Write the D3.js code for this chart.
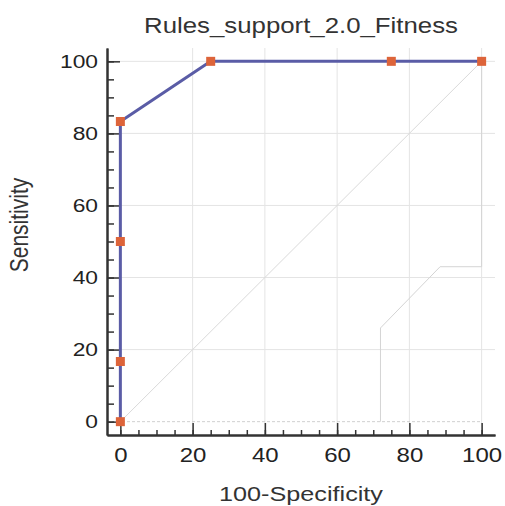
<!DOCTYPE html>
<html><head><meta charset="utf-8">
<script src="https://cdn.jsdelivr.net/npm/d3@7/dist/d3.min.js"></script>
<style>body{margin:0;background:#fff}</style>
</head><body><svg id="c" width="505" height="506"></svg>
<script>
const title = "Rules_support_2.0_Fitness";
const xLabel = "100-Specificity";
const yLabel = "Sensitivity";
const majorTicks = [0, 20, 40, 60, 80, 100];
const minorTicks = d3.range(0, 101, 5);
const rocX = [0, 0, 0, 0, 25, 75, 100];
const rocY = [0, 16.7, 50, 83.3, 100, 100, 100];
const bandX = [72, 72, 88.5, 100, 100];
const bandY = [0, 26, 43, 43, 100];
const diagX = [0, 100];
const diagY = [0, 100];

const svg = d3.select("#c");
const font = "Liberation Sans, Arial, sans-serif";
const sx = 1.2;
const x = d3.scaleLinear().domain([-3.7, 103.7]).range([107, 495]);
const y = d3.scaleLinear().domain([-3.7, 103.7]).range([435, 48]);

// grid
const grid = svg.append("g");
grid.selectAll(".gx").data(majorTicks.filter(d => d > 0)).join("line")
  .attr("x1", d => x(d)).attr("x2", d => x(d)).attr("y1", y(103.7)).attr("y2", y(-3.7))
  .attr("stroke", "#e4e4e4").attr("stroke-width", 1);
grid.selectAll(".gy").data(majorTicks.filter(d => d > 0)).join("line")
  .attr("y1", d => y(d)).attr("y2", d => y(d)).attr("x1", x(-3.7)).attr("x2", x(103.7))
  .attr("stroke", "#e4e4e4").attr("stroke-width", 1);
grid.append("line").attr("x1", x(-3.7)).attr("x2", x(100)).attr("y1", y(0)).attr("y2", y(0))
  .attr("stroke", "#d0d0d0").attr("stroke-width", 1).attr("stroke-dasharray", "3,2");

// reference lines
const line = d3.line().x(d => x(d[0])).y(d => y(d[1]));
svg.append("path").attr("d", line(diagX.map((v, i) => [v, diagY[i]])))
  .attr("fill", "none").attr("stroke", "#dadada").attr("stroke-width", 1);
svg.append("path").attr("d", line(bandX.map((v, i) => [v, bandY[i]])))
  .attr("fill", "none").attr("stroke", "#d4d4d4").attr("stroke-width", 1);

// axes
function styleAxis(g) {
  g.select(".domain").attr("stroke", "#333").attr("stroke-width", 2);
  g.selectAll(".tick line").attr("stroke", "#333").attr("stroke-width", 1.5);
}
const xMinor = svg.append("g").attr("transform", `translate(0,${y(-3.7)})`)
  .call(d3.axisBottom(x).tickValues(minorTicks).tickSizeInner(-5).tickSizeOuter(0).tickFormat(""));
styleAxis(xMinor);
const yMinor = svg.append("g").attr("transform", `translate(${x(-3.7)},0)`)
  .call(d3.axisLeft(y).tickValues(minorTicks).tickSizeInner(-7).tickSizeOuter(0).tickFormat(""));
styleAxis(yMinor);

const xAxis = svg.append("g").attr("transform", `translate(0,${y(-3.7)})`)
  .call(d3.axisBottom(x).tickValues(majorTicks).tickSizeInner(-12).tickSizeOuter(0).tickPadding(13));
styleAxis(xAxis);
xAxis.selectAll(".tick text").attr("font-family", font).attr("font-size", 20).attr("fill", "#222")
  .attr("transform", `scale(${sx},1)`);
const yAxis = svg.append("g").attr("transform", `translate(${x(-3.7)},0)`)
  .call(d3.axisLeft(y).tickValues(majorTicks).tickSizeInner(-13).tickSizeOuter(0).tickPadding(9));
styleAxis(yAxis);
yAxis.selectAll(".tick text").attr("font-family", font).attr("font-size", 19).attr("fill", "#222")
  .attr("x", 0).attr("transform", `translate(-9,0) scale(${sx},1)`);

// ROC curve
const roc = rocX.map((v, i) => [v, rocY[i]]);
svg.append("path").attr("d", line(roc)).attr("fill", "none")
  .attr("stroke", "#5a5ca6").attr("stroke-width", 3).attr("stroke-linejoin", "round");
svg.selectAll(".pt").data(roc).join("rect")
  .attr("x", d => x(d[0]) - 4.5).attr("y", d => y(d[1]) - 4.5)
  .attr("width", 9).attr("height", 9).attr("fill", "#dd643a");

// texts
function label(txt, tx, ty, size, rot) {
  const g = svg.append("g").attr("transform", `translate(${tx},${ty}) scale(${sx},1)` + (rot ? ` rotate(${rot})` : ""));
  g.append("text").attr("text-anchor", "middle").attr("font-family", font)
    .attr("font-size", size).attr("fill", "#333").text(txt);
}
label(title, 301, 33, 21.5);
label(xLabel, 301, 501, 21);
label(yLabel, 28, 225, 21, -90);
</script></body></html>
